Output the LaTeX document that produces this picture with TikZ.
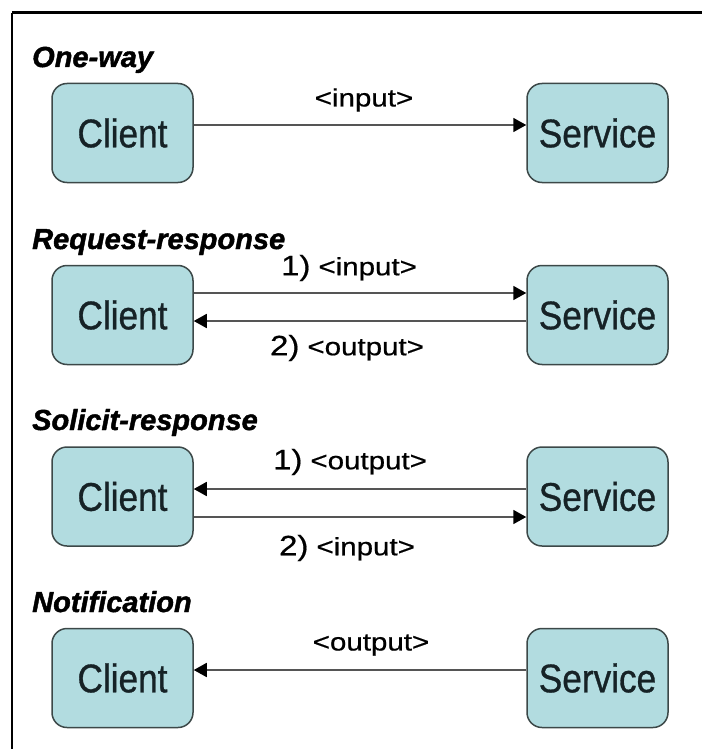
\documentclass[tikz,border=0pt]{standalone}
\usepackage{fontspec}
\setmainfont{Liberation Sans}
\newfontfamily\boxfont[FakeStretch=0.88,FakeBold=0.8]{Liberation Sans}
\newfontfamily\msgfont[FakeStretch=1.18,FakeBold=0.6]{Liberation Sans}
\newfontfamily\headfont[FakeBold=1.5]{Liberation Sans}
\usetikzlibrary{arrows.meta}
\definecolor{boxfill}{RGB}{178,220,224}
\definecolor{boxline}{RGB}{60,72,72}
\definecolor{boxtext}{RGB}{22,34,38}
\definecolor{wire}{RGB}{85,85,85}
\newcommand{\seq}[2]{{\fontsize{28}{32}\selectfont #1}\hspace{8pt}{#2}}
\begin{document}
\begin{tikzpicture}[x=1pt,y=-1pt,
  party/.style={draw=boxline, line width=1.5pt, fill=boxfill, rounded corners=15pt,
    minimum width=141pt, minimum height=99pt, inner sep=0pt, text=boxtext,
    font=\boxfont\fontsize{40}{44}\selectfont},
  heading/.style={anchor=base west, inner sep=0pt,
    font=\headfont\fontsize{29}{34}\selectfont\bfseries\itshape},
  msg/.style={inner sep=0pt, font=\msgfont\fontsize{25}{30}\selectfont},
  flow/.style={draw=wire, line width=1.8pt,
    -{Triangle[length=13pt,width=14pt,color=black]}}
]
\useasboundingbox (0,0) rectangle (702,749);
% frame
\draw[line width=3pt] (12,13) -- (702,13);
\draw[line width=2.5pt] (12,13) -- (12,749);

% One-way
\node[heading] (t1) at (32,67) {One-way};
\node[party] (c1) at (122.5,133) {Client};
\node[party] (s1) at (597.5,133) {Service};
\draw[flow] ([yshift=8pt]c1.east) -- ([yshift=8pt]s1.west);
\node[msg] (m1) at (364,100) {<input>};

% Request-response
\node[heading] (t2) at (32,249) {Request-response};
\node[party] (c2) at (122.5,315) {Client};
\node[party] (s2) at (597.5,315) {Service};
\draw[flow] ([yshift=22pt]c2.east) -- ([yshift=22pt]s2.west);
\draw[flow] ([yshift=-6pt]s2.west) -- ([yshift=-6pt]c2.east);
\node[msg] (m2a) at (349,268) {\seq{1)}{<input>}};
\node[msg] (m2b) at (347,348) {\seq{2)}{<output>}};

% Solicit-response
\node[heading] (t3) at (32,430) {Solicit-response};
\node[party] (c3) at (122.5,496.5) {Client};
\node[party] (s3) at (597.5,496.5) {Service};
\draw[flow] ([yshift=7.5pt]s3.west) -- ([yshift=7.5pt]c3.east);
\draw[flow] ([yshift=-20.5pt]c3.east) -- ([yshift=-20.5pt]s3.west);
\node[msg] (m3a) at (350,462) {\seq{1)}{<output>}};
\node[msg] (m3b) at (347,548) {\seq{2)}{<input>}};

% Notification
\node[heading] (t4) at (32,612) {Notification};
\node[party] (c4) at (122.5,678) {Client};
\node[party] (s4) at (597.5,678) {Service};
\draw[flow] ([yshift=8pt]s4.west) -- ([yshift=8pt]c4.east);
\node[msg] (m4) at (371,645) {<output>};
\end{tikzpicture}
\end{document}
